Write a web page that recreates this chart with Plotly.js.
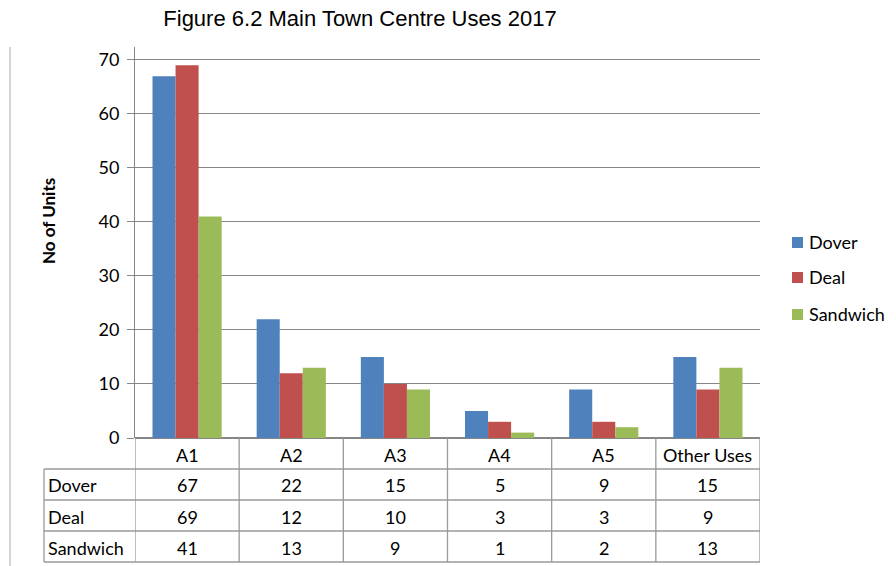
<!DOCTYPE html>
<html><head><meta charset="utf-8">
<script src="https://cdn.plot.ly/plotly-3.0.1.min.js"></script>
<style>html,body{margin:0;padding:0;background:#fff}#c{width:896px;height:566px}</style>
</head><body><div id="c"></div>
<script>
const categories = ["A1", "A2", "A3", "A4", "A5", "Other Uses"];
const seriesNames = ["Dover", "Deal", "Sandwich"];
const dover = [67, 22, 15, 5, 9, 15];
const deal = [69, 12, 10, 3, 3, 9];
const sandwich = [41, 13, 9, 1, 2, 13];
const yTicks = [0, 10, 20, 30, 40, 50, 60, 70];
const colors = ["#4F81BD", "#C0504D", "#9BBB59"];
const values = [dover, deal, sandwich];

const W = 896, H = 566;
const L = 135, R = 760, T = 47, B = 438;
const pw = R - L, ph = B - T;
const px = X => (X - L) / pw;
const py = Y => (B - Y) / ph;

const FAM = "Lato, 'Open Sans', sans-serif";
const cellFont = {family: FAM, size: 18, color: "#000"};
const lineCol = "#9a9a9a";

const traces = values.map((v, i) => ({
  type: "bar", x: categories, y: v, name: seriesNames[i],
  marker: {color: colors[i]}, showlegend: false
}));

const rowY = [438, 469, 500, 531, 562];
const shapes = [];
const annotations = [];
// left outer line
shapes.push({type: "line", xref: "paper", yref: "paper", x0: px(10), x1: px(10), y0: py(47), y1: py(566), line: {color: "#aaaaaa", width: 1}});
// header bottom & row lines
for (let r = 1; r < rowY.length; r++) {
  shapes.push({type: "line", xref: "paper", yref: "paper", x0: px(44), x1: 1, y0: py(rowY[r]), y1: py(rowY[r]), line: {color: lineCol, width: 1.3}});
}
// vertical lines at category boundaries
for (let c = 0; c <= categories.length; c++) {
  shapes.push({type: "line", xref: "x", yref: "paper", x0: c - 0.5, x1: c - 0.5, y0: 0, y1: py(562), line: {color: lineCol, width: 1.3}});
}
// table left border
shapes.push({type: "line", xref: "paper", yref: "paper", x0: px(44), x1: px(44), y0: py(469), y1: py(562), line: {color: lineCol, width: 1.3}});

// header
categories.forEach((c, i) => {
  annotations.push({xref: "x", yref: "paper", x: i, y: py((rowY[0] + rowY[1]) / 2 + 1), text: c, showarrow: false, font: cellFont, xanchor: "center", yanchor: "middle"});
});
seriesNames.forEach((s, r) => {
  const yc = py((rowY[r + 1] + rowY[r + 2]) / 2 + 1);
  annotations.push({xref: "paper", yref: "paper", x: px(46), y: yc, text: s, showarrow: false, font: cellFont, xanchor: "left", yanchor: "middle"});
  values[r].forEach((v, i) => {
    annotations.push({xref: "x", yref: "paper", x: i, y: yc, text: String(v), showarrow: false, font: cellFont, xanchor: "center", yanchor: "middle"});
  });
});
// y-axis title
annotations.push({xref: "paper", yref: "paper", x: px(48), y: py(221), text: "<b>No of Units</b>", textangle: -90, showarrow: false, font: {family: FAM, size: 17, color: "#000"}, xanchor: "center", yanchor: "middle"});

// manual legend
const legY = [242, 277, 314];
seriesNames.forEach((s, i) => {
  shapes.push({type: "rect", xref: "paper", yref: "paper", x0: px(792), x1: px(803), y0: py(legY[i] - 5), y1: py(legY[i] + 6), fillcolor: colors[i], line: {width: 0}});
  annotations.push({xref: "paper", yref: "paper", x: px(807), y: py(legY[i]), text: s, showarrow: false, font: {family: FAM, size: 18, color: "#000"}, xanchor: "left", yanchor: "middle"});
});

const layout = {
  width: W, height: H,
  margin: {l: L, r: W - R, t: T, b: H - B, pad: 0, autoexpand: false},
  paper_bgcolor: "#fff", plot_bgcolor: "#fff",
  title: {text: "Figure 6.2 Main Town Centre Uses 2017", font: {family: "'Liberation Sans', Arial, sans-serif", size: 22, color: "#000"}, x: 360 / W, xanchor: "center", xref: "container", y: 1 - 18 / H, yanchor: "middle", yref: "container"},
  bargap: 0.336, bargroupgap: 0,
  barmode: "group",
  showlegend: false,
  xaxis: {type: "category", showticklabels: false, ticks: "", showgrid: false, zeroline: false, showline: false, range: [-0.5, 5.5], fixedrange: true},
  yaxis: {range: [0, 72.4], tickvals: yTicks, ticktext: yTicks.map(String), ticks: "outside", ticklen: 7, tickcolor: "#868686", showline: true, linecolor: "#868686", linewidth: 1, showgrid: true, gridcolor: "#868686", gridwidth: 1, zeroline: true, zerolinecolor: "#868686", zerolinewidth: 1.3, tickfont: {family: FAM, size: 18, color: "#000"}, ticklabelstandoff: 4},
  shapes: shapes, annotations: annotations
};
Plotly.newPlot("c", traces, layout, {displayModeBar: false, staticPlot: true});
</script></body></html>
